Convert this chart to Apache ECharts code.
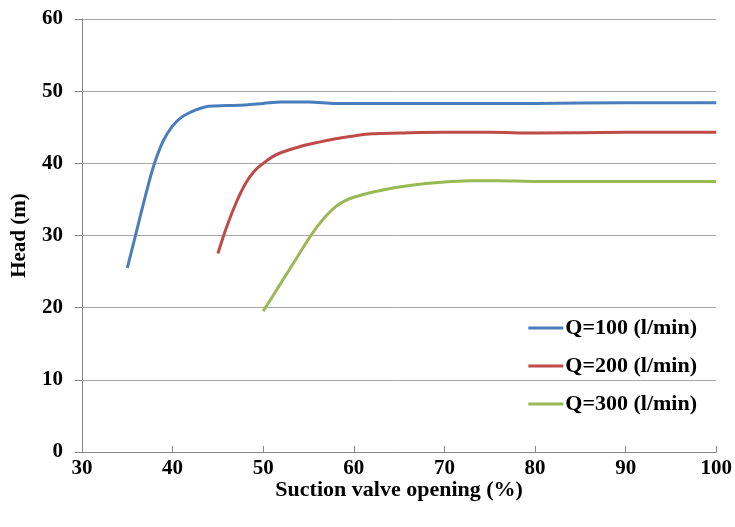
<!DOCTYPE html>
<html><head><meta charset="utf-8">
<script src="https://cdn.jsdelivr.net/npm/echarts@6/dist/echarts.min.js"></script>
<style>html,body{margin:0;padding:0;background:#fff}#c{width:735px;height:527px}</style>
</head><body><div id="c"></div>
<script>
const seriesNames = ['Q=100 (l/min)', 'Q=200 (l/min)', 'Q=300 (l/min)'];
const q100 = [[35,25.5],[36,30.5],[37,35.5],[38,40.0],[39,43.2],[40,45.2],[41,46.4],[42,47.1],[43,47.6],[44,47.9],[46,48.0],[48,48.1],[50,48.3],[52,48.5],[55,48.5],[58,48.3],[60,48.3],[65,48.3],[70,48.3],[80,48.3],[90,48.4],[100,48.4]];
const q200 = [[45,27.5],[46,31.3],[47,34.5],[48,37.1],[49,38.9],[50,40.0],[51,40.9],[52,41.5],[54,42.3],[56,42.9],[58,43.4],[60,43.8],[62,44.1],[65,44.2],[70,44.3],[75,44.3],[80,44.2],[90,44.3],[100,44.3]];
const q300 = [[50,19.5],[52,23.5],[54,27.5],[55,29.5],[56,31.3],[57,32.8],[58,34.0],[59,34.8],[60,35.3],[62,36.0],[64,36.5],[66,36.9],[68,37.2],[70,37.4],[73,37.6],[76,37.6],[80,37.5],[90,37.5],[100,37.5]];
const colors = ['#4a7ebb', '#be4b48', '#98b954'];
const xTitle = 'Suction valve opening (%)';
const yTitle = 'Head (m)';

const font = '"Liberation Serif","Times New Roman",serif';
const chart = echarts.init(document.getElementById('c'));
const mk = (name, data, color) => ({
  name, type: 'line', data, smooth: 0.35, showSymbol: false, symbol: 'none',
  lineStyle: { width: 3, color }, itemStyle: { color }
});
chart.setOption({
  animation: false,
  grid: { left: 82, right: 18, top: 19, bottom: 75 },
  xAxis: {
    type: 'value', min: 30, max: 100, interval: 10,
    name: xTitle, nameLocation: 'middle', nameGap: 27, nameMoveOverlap: false,
    nameTextStyle: { fontFamily: font, fontWeight: 'bold', fontSize: 22, color: '#000' },
    axisLine: { lineStyle: { color: '#868686', width: 1 } },
    axisTick: { show: true, inside: true, length: 6, lineStyle: { color: '#868686' } },
    axisLabel: { fontFamily: font, fontWeight: 'bold', fontSize: 21, color: '#000', margin: 6 },
    splitLine: { show: false }
  },
  yAxis: {
    type: 'value', min: 0, max: 60, interval: 10,
    name: yTitle, nameLocation: 'middle', nameGap: 52, nameRotate: 90, nameMoveOverlap: false,
    nameTextStyle: { fontFamily: font, fontWeight: 'bold', fontSize: 21, color: '#000' },
    axisLine: { show: true, lineStyle: { color: '#868686', width: 1 } },
    axisTick: { show: true, inside: false, length: 7, lineStyle: { color: '#868686' } },
    axisLabel: { fontFamily: font, fontWeight: 'bold', fontSize: 21, color: '#000', margin: 19 },
    splitLine: { show: true, lineStyle: { color: '#a6a6a6', width: 1 } }
  },
  legend: {
    orient: 'vertical', right: 33, top: 312, itemGap: 16, align: 'left',
    itemWidth: 35, itemHeight: 3, icon: 'rect',
    textStyle: { fontFamily: font, fontWeight: 'bold', fontSize: 22, color: '#000', padding: [0,0,0,-3] },
    data: seriesNames
  },
  series: [mk(seriesNames[0], q100, colors[0]), mk(seriesNames[1], q200, colors[1]), mk(seriesNames[2], q300, colors[2])]
});
</script></body></html>
